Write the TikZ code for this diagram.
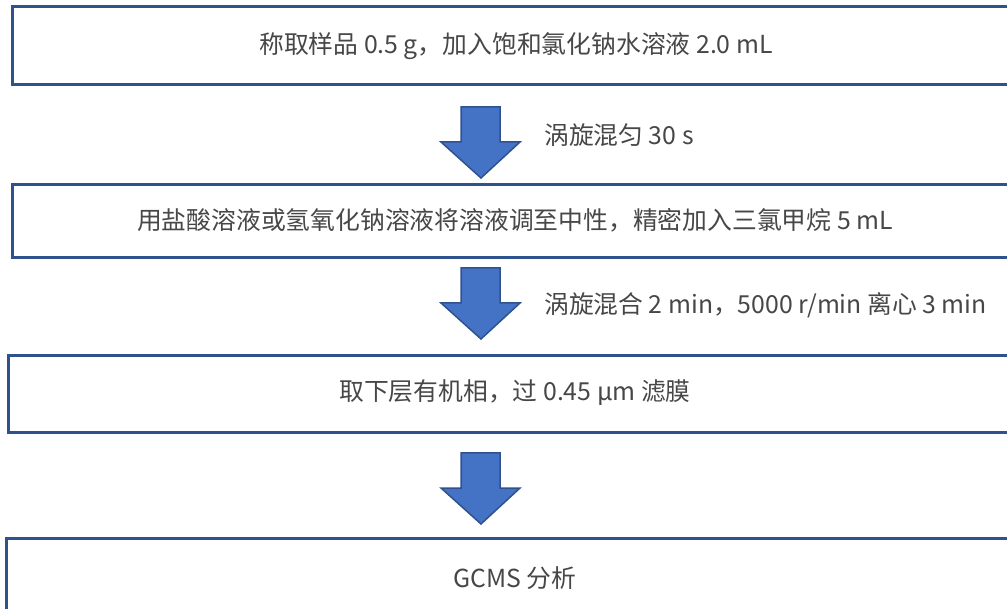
\documentclass[tikz,border=0pt]{standalone}
\usepackage{fontspec}
\setmainfont{Noto Sans CJK SC}
\definecolor{boxline}{HTML}{2F528F}
\definecolor{arrowfill}{HTML}{4472C4}
\definecolor{txt}{HTML}{474747}
\begin{document}
\begin{tikzpicture}[x=1pt,y=-1pt,
  stepbox/.style={draw=boxline,line width=3pt,fill=white,rectangle,inner sep=0pt},
  steptext/.style={text=txt,font=\fontsize{24.8}{28}\selectfont,inner sep=0pt},
  blk/.style={draw=boxline,line width=1.5pt,fill=arrowfill,line join=miter},
  blockarrow/.pic={\draw[blk] (-20,0) -- (19,0) -- (19,35) -- (39,35) -- (0,71) -- (-40,35) -- (-20,35) -- cycle;}
]
\useasboundingbox (0,0) rectangle (1007,609);
\begin{scope}
\clip (0,0) rectangle (1007,609);
\draw[stepbox] (12,7) rectangle (1020,85);
\draw[stepbox] (12,185) rectangle (1020,258);
\draw[stepbox] (8,356) rectangle (1020,433);
\draw[stepbox] (6,538) rectangle (1020,620);
\end{scope}
\node[steptext] (s1) at (516,46) {称取样品 0.5 g，加入饱和氯化钠水溶液 2.0 mL};
\node[steptext] (s2) at (515,220) {用盐酸溶液或氢氧化钠溶液将溶液调至中性，精密加入三氯甲烷 5 mL};
\node[steptext] (s3) at (515,393) {取下层有机相，过 0.45 μm 滤膜};
\node[steptext] (s4) at (515,578) {GCMS 分析};
\pic at (481,107) {blockarrow};
\pic at (481,268) {blockarrow};
\pic at (481,453) {blockarrow};
\node[steptext,anchor=west] (l1) at (544,135) {涡旋混匀 30 s};
\node[steptext,anchor=west] (l2) at (544,305) {涡旋混合 2 min，5000 r/min 离心 3 min};
\end{tikzpicture}
\end{document}
